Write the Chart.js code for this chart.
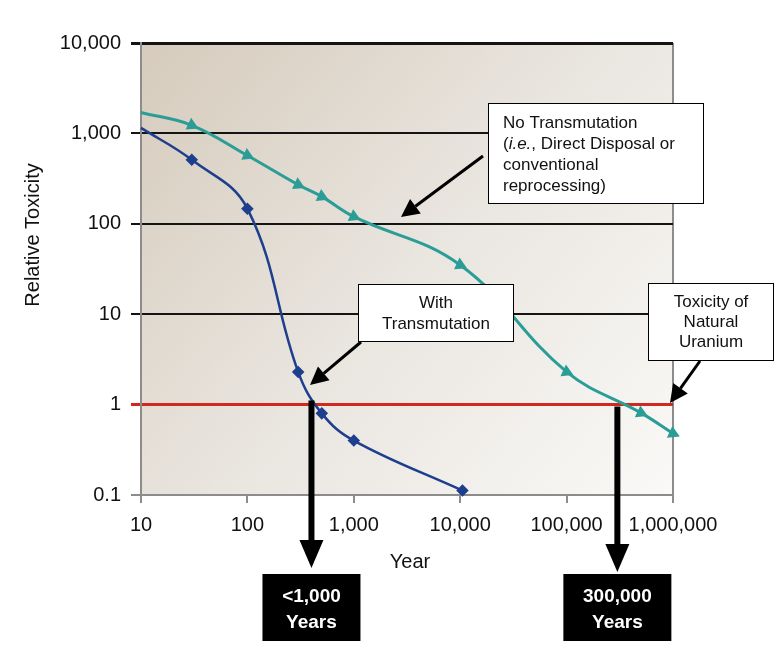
<!DOCTYPE html>
<html>
<head>
<meta charset="utf-8">
<script src="https://cdn.jsdelivr.net/npm/chart.js@4"></script>
<style>
  html, body { margin: 0; padding: 0; background: #fff; }
  canvas { display: block; }
</style>
</head>
<body>
<canvas id="chart" width="779" height="672"></canvas>
<script>
// decade ticks on both axes
const yearTicks = [10, 100, 1000, 10000, 100000, 1000000];
const toxTicks = [0.1, 1, 10, 100, 1000, 10000];

// With Transmutation (blue diamonds)
const withYears = [10, 30, 100, 300, 500, 1000, 10500];
const withTox = [1150, 510, 147, 2.3, 0.8, 0.4, 0.112];

// No Transmutation (teal triangles)
const noYears = [10, 30, 100, 300, 500, 1000, 10000, 100000, 500000, 1000000];
const noTox = [1700, 1230, 570, 270, 200, 120, 35, 2.3, 0.81, 0.48];

// where the curves cross natural uranium toxicity (annotation arrows)
const crossYears = [400, 300000];
const crossLabels = [['<1,000', 'Years'], ['300,000', 'Years']];

const FONT = '"Liberation Sans", Arial, sans-serif';

const toPoints = (xs, ys) => xs.map((x, i) => ({ x: x, y: ys[i] }));

function arrow(ctx, x1, y1, x2, y2, w, head, headW) {
    const a = Math.atan2(y2 - y1, x2 - x1);
    const bx = x2 - Math.cos(a) * head, by = y2 - Math.sin(a) * head;
    ctx.strokeStyle = '#000';
    ctx.lineWidth = w;
    ctx.beginPath();
    ctx.moveTo(x1, y1);
    ctx.lineTo(bx, by);
    ctx.stroke();
    ctx.fillStyle = '#000';
    ctx.beginPath();
    ctx.moveTo(x2, y2);
    ctx.lineTo(bx + Math.sin(a) * headW / 2, by - Math.cos(a) * headW / 2);
    ctx.lineTo(bx - Math.sin(a) * headW / 2, by + Math.cos(a) * headW / 2);
    ctx.closePath();
    ctx.fill();
}

function textBox(ctx, x, y, w, h, lines, align, tx, ty, lh) {
    ctx.fillStyle = '#fff';
    ctx.fillRect(x, y, w, h);
    ctx.strokeStyle = '#000';
    ctx.lineWidth = 1;
    ctx.strokeRect(x + 0.5, y + 0.5, w, h);
    ctx.fillStyle = '#111';
    ctx.textAlign = align;
    ctx.textBaseline = 'middle';
    lines.forEach((ln, i) => {
        if (Array.isArray(ln)) {
            // mixed italic / normal segments
            let cx = tx;
            ln.forEach(seg => {
                ctx.font = (seg.italic ? 'italic ' : '') + '17px ' + FONT;
                ctx.textAlign = 'left';
                ctx.fillText(seg.t, cx, ty + i * lh);
                cx += ctx.measureText(seg.t).width;
            });
        } else {
            ctx.font = '17px ' + FONT;
            ctx.fillText(ln, tx, ty + i * lh);
        }
    });
}

const bgPlugin = {
    id: 'bg',
    beforeDraw(chart) {
        const { ctx, chartArea: a } = chart;
        const g = ctx.createLinearGradient(a.left, a.top, a.right, a.bottom);
        g.addColorStop(0, '#d6cbbc');
        g.addColorStop(0.5, '#e9e5df');
        g.addColorStop(1, '#faf9f7');
        ctx.save();
        ctx.fillStyle = g;
        ctx.fillRect(a.left, a.top, a.right - a.left, a.bottom - a.top);
        ctx.restore();
    }
};

const notesPlugin = {
    id: 'notes',
    afterDraw(chart) {
        const { ctx } = chart;
        const x = chart.scales.x, y = chart.scales.y;
        ctx.save();

        // axis titles
        ctx.fillStyle = '#111';
        ctx.font = '20px ' + FONT;
        ctx.textAlign = 'center';
        ctx.textBaseline = 'middle';
        ctx.fillText('Year', 410, 562);
        ctx.save();
        ctx.translate(33, 235);
        ctx.rotate(-Math.PI / 2);
        ctx.fillText('Relative Toxicity', 0, 0);
        ctx.restore();

        // big arrows down to the year boxes
        const y1 = y.getPixelForValue(1);
        crossYears.forEach((yr, i) => {
            const px = x.getPixelForValue(yr);
            arrow(ctx, px, y1 - 4 + i * 6, px, 568 + i * 4, 6, 28, 24);
            const bw = i === 0 ? 98 : 108;
            const bx = px - bw / 2;
            const by = 574;
            ctx.fillStyle = '#000';
            ctx.fillRect(bx, by, bw, 67);
            ctx.fillStyle = '#fff';
            ctx.font = 'bold 19px ' + FONT;
            ctx.textAlign = 'center';
            ctx.textBaseline = 'middle';
            ctx.fillText(crossLabels[i][0], px, by + 23);
            ctx.fillText(crossLabels[i][1], px, by + 49);
        });

        // callout boxes
        arrow(ctx, 483, 156, 401, 217, 3, 18, 18);
        textBox(ctx, 488, 103, 215, 100, [
            'No Transmutation',
            [{ t: '(' }, { t: 'i.e.', italic: true }, { t: ', Direct Disposal or' }],
            'conventional',
            'reprocessing)'
        ], 'left', 503, 123, 21);

        arrow(ctx, 361, 342, 310, 385, 3, 18, 18);
        textBox(ctx, 358, 284, 155, 57, ['With', 'Transmutation'], 'center', 436, 303, 21);

        arrow(ctx, 700, 361, 670, 403, 3, 18, 18);
        textBox(ctx, 648, 283, 125, 77, ['Toxicity of', 'Natural', 'Uranium'], 'center', 711, 302, 20);

        ctx.restore();
    }
};

const gridColor = v => v === 1 ? '#d0291f' : (v === 0.1 ? '#8c8c8c' : '#141414');
const gridWidth = v => (v === 1 || v === 10000) ? 3 : 2;

new Chart(document.getElementById('chart'), {
    type: 'line',
    data: {
        datasets: [{
            label: 'No Transmutation',
            data: toPoints(noYears, noTox),
            borderColor: '#2a9d96',
            backgroundColor: '#2a9d96',
            borderWidth: 3,
            tension: 0.4,
            pointStyle: 'triangle',
            pointRotation: 115,
            pointRadius: noYears.map((v, i) => i === 0 ? 0 : 4.5),
            clip: 8
        }, {
            label: 'With Transmutation',
            data: toPoints(withYears, withTox),
            borderColor: '#1d3f8e',
            backgroundColor: '#1d3f8e',
            borderWidth: 2.5,
            tension: 0.4,
            pointStyle: 'rectRot',
            pointRadius: withYears.map((v, i) => i === 0 ? 0 : 4.5),
            clip: 8
        }]
    },
    options: {
        responsive: false,
        animation: false,
        layout: { padding: { left: 0, top: 43, right: 106, bottom: 117 } },
        scales: {
            x: {
                type: 'logarithmic',
                min: 10,
                max: 1000000,
                afterBuildTicks: s => { s.ticks = yearTicks.map(v => ({ value: v })); },
                afterFit: s => { s.height = 60; },
                border: { color: '#8c8c8c', width: 2 },
                grid: {
                    color: c => c.tick && c.tick.value === 1000000 ? '#8c8c8c' : 'rgba(0,0,0,0)',
                    tickColor: '#8c8c8c',
                    lineWidth: 2,
                    tickLength: 8
                },
                ticks: {
                    autoSkip: false,
                    maxRotation: 0,
                    padding: 10,
                    color: '#111',
                    font: { family: FONT, size: 20 },
                    callback: v => Number(v).toLocaleString('en-US')
                }
            },
            y: {
                type: 'logarithmic',
                min: 0.1,
                max: 10000,
                afterBuildTicks: s => { s.ticks = toxTicks.map(v => ({ value: v })); },
                afterFit: s => { s.width = 141; },
                border: { color: '#8c8c8c', width: 2 },
                grid: {
                    color: c => gridColor(c.tick ? c.tick.value : 0),
                    lineWidth: c => gridWidth(c.tick ? c.tick.value : 0),
                    tickLength: 10
                },
                ticks: {
                    padding: 10,
                    color: '#111',
                    font: { family: FONT, size: 20 },
                    callback: v => Number(v).toLocaleString('en-US')
                }
            }
        },
        plugins: {
            legend: { display: false },
            tooltip: { enabled: false }
        }
    },
    plugins: [bgPlugin, notesPlugin]
});
</script>
</body>
</html>
